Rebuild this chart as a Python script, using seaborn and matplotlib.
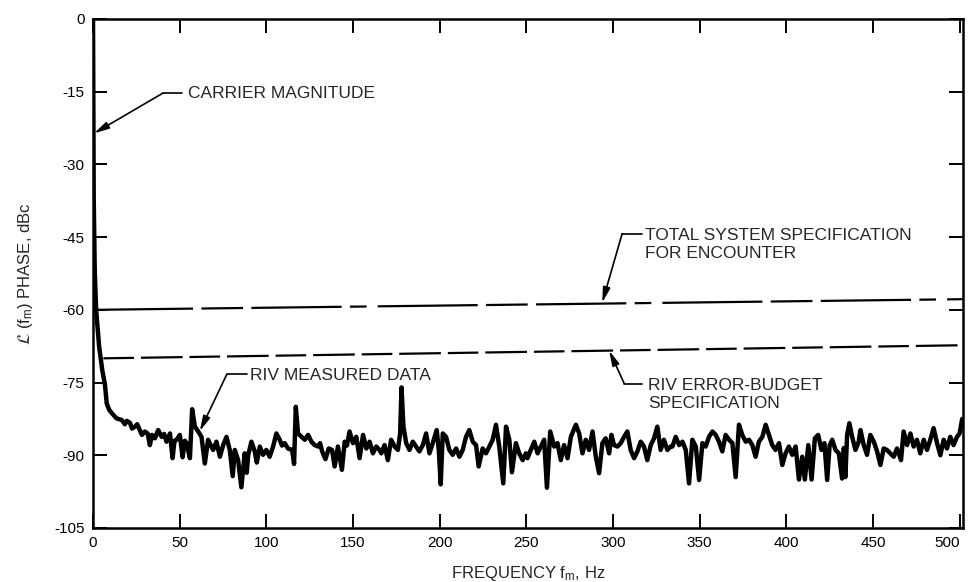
import matplotlib
matplotlib.use("Agg")
import matplotlib.pyplot as plt
import seaborn as sns
import pandas as pd

# Measured single-sideband phase noise of the receiver (offset frequency in Hz, level in dBc)
freq_hz = [
    0, 0.2, 0.4, 1.0, 1.8, 3.5, 5.4, 6.9, 7.9, 9.3, 10.8, 13.6, 16.5, 18.4, 19.5,
    21.3, 22.5, 24.2, 25.5, 27, 28.2, 29.9, 31.5, 32.8, 34, 35.7, 37.6, 39.6, 41,
    42.4, 44.4, 45.9, 47, 48.2, 50.1, 51.7, 53, 54, 55.9, 57.2, 58.8, 60.7, 62.6,
    64.5, 66.4, 68, 69.3, 71.2, 73.2, 75.1, 77, 78.9, 80.6, 81.8, 83.7, 85.6, 87.5,
    88.7, 89.5, 91.4, 93.3, 94.5, 96.2, 98.1, 100, 101.9, 103.9, 105.8, 107.7, 109,
    110.6, 112.5, 114.9, 116.0, 117.0, 118.3, 120.3, 122.2, 124.1, 126, 127.9, 129.9,
    131, 132.2, 134.1, 136, 137.9, 139.4, 141.3, 143.6, 145.2, 146.5, 148, 150,
    151.9, 153.8, 155.8, 157.7, 159.6, 161.5, 163.4, 165.3, 166.3, 168.2, 170.1,
    172, 174, 175.9, 177.2, 178, 179.1, 180.7, 182.6, 184.5, 186.4, 188.3, 190.3,
    192.2, 194.1, 196, 198.3, 199.5, 200.6, 201.8, 203.7, 205.6, 207.5, 209.5,
    211.4, 213.3, 215.2, 217.1, 219.1, 221, 222.5, 224.8, 226.7, 228.7, 230.6,
    232.5, 234.4, 236.7, 238.3, 240.2, 241.7, 244, 245.9, 247.9, 249.8, 250.7,
    252.6, 254.6, 256.5, 258.4, 260.3, 261.9, 263.8, 266.1, 268, 269.9, 271.8,
    273.8, 275.7, 278.6, 280.5, 282.4, 284.3, 286.2, 288.2, 290.1, 292, 293.9,
    295.8, 297.8, 299.1, 300.6, 302.6, 304.5, 306.4, 308.3, 310.2, 312.2, 314.1,
    316, 317.9, 319.8, 321.8, 323.7, 325.6, 327.5, 329.4, 331.4, 333.3, 334.3,
    336.2, 338.2, 340.1, 342, 343.9, 345.8, 347.8, 349.7, 351.6, 353.5, 355.4,
    357.4, 359.3, 361.2, 363.1, 365, 367, 368.9, 370.8, 372.7, 374.6, 376.6,
    378.5, 380.4, 382.3, 384.2, 386.2, 388.1, 390, 391.9, 393.8, 395.8, 397.7,
    399.6, 401.5, 403.4, 405.4, 407.3, 409.2, 410.7, 412.7, 414.6, 416.5, 418.4,
    420.3, 422, 423.6, 425, 426.5, 428.4, 430.3, 432.2, 433.2, 434.1, 435.1,
    436.4, 438, 439.9, 441.8, 442.8, 444.7, 446.6, 448.5, 450.5, 452.4, 454.3,
    456.2, 458.1, 460, 462, 463.9, 466.2, 467.7, 469.7, 471.6, 473.5, 475.4,
    477.3, 479.3, 481.2, 483.1, 485, 487, 488.9, 490.8, 492.7, 494.6, 496.5,
    498.5, 500, 501.5,
]
phase_noise_dbc = [
    0, -20, -37, -52, -60, -67.5, -72.6, -75.5, -79.3, -80.6, -81.3, -82.4, -82.7, -83.6, -82.9,
    -83.3, -84.5, -84.1, -83.6, -84.8, -85.8, -85.1, -85.5, -87.9, -85.8, -86.5, -84.8, -86.2, -85.6,
    -87.2, -85.5, -90.6, -87, -86.8, -85.8, -90.4, -87, -87.5, -90.6, -80.5, -84.1, -85.1, -86.2,
    -91.7, -86.8, -88, -88.9, -87.2, -90.3, -87.9, -86.2, -88.9, -94.3, -88.9, -91, -96.6, -89.6,
    -93.6, -90, -87.2, -89.2, -91.5, -88.2, -89.9, -88.9, -90.3, -88.2, -85.5, -86.8, -88,
    -87.5, -88.6, -88.9, -91.8, -80, -85.5, -86.2, -86.8, -85.8, -87.2, -87.9, -88.2,
    -87.5, -89.2, -90.8, -88.6, -88.9, -92.3, -88.2, -93, -87.2, -88, -85.1, -87.5,
    -86.2, -90.6, -85.8, -88.6, -87.2, -89.6, -88.2, -88.9, -89.6, -87.9, -91,
    -86.8, -88.2, -88.9, -85.5, -76, -84.1, -87.5, -88.9, -87.2, -88.2, -89.2, -87.9,
    -85.5, -89.6, -87.5, -84.8, -88.9, -96, -85.5, -86.2, -88.9, -89.9, -88.6,
    -90.3, -88.9, -86.2, -84.8, -87.2, -87.9, -92.3, -88.6, -89.6, -88.2, -86.8,
    -83.7, -88.2, -95.8, -84.1, -86.8, -93.5, -87.5, -89.6, -91, -89.6, -90.6,
    -88.9, -87.2, -89.6, -88.2, -86.8, -96.7, -85.1, -88.2, -87.5, -91, -87.9,
    -90.6, -86.2, -83.7, -85.5, -89.6, -86.8, -88.9, -85.1, -90.3, -93.7, -87.5,
    -86.5, -89.6, -85.8, -87.9, -88.2, -87.5, -86.2, -85.1, -88.9, -90.6, -89.2,
    -87.2, -88.2, -91, -87.9, -86.5, -84.1, -88.9, -86.8, -88.9, -88.2, -88.2,
    -86.2, -87.9, -87.2, -88.9, -95.8, -86.8, -88.2, -95.1, -87.5, -88.2, -86.2,
    -85.1, -85.8, -87.2, -89.2, -85.8, -86.8, -87.5, -94.5, -83.7, -85.8, -87.2,
    -86.8, -87.9, -90.3, -87.2, -86.2, -83.7, -85.8, -87.9, -88.9, -87.5, -92,
    -89.6, -88.2, -89.9, -88.2, -95, -90.3, -95, -87.9, -95, -86.5, -85.8,
    -88.9, -87.5, -95.1, -88, -86.8, -88.9, -89.6, -94.8, -88.5, -94.5, -85.8,
    -83.4, -86.2, -88.9, -87.2, -84.8, -87.9, -89.9, -85.8, -87.2, -89.2, -92,
    -88.6, -88.9, -89.6, -90.3, -88.6, -91, -85.1, -87.9, -85.5, -88.2, -86.8,
    -89.6, -86.8, -88.9, -86.8, -84.4, -87.5, -90, -86.8, -88.6, -86.2, -87.9,
    -86.2, -85.5, -82.5,
]

# Specification limits (end points of each straight line)
spec_total_hz = [0, 502]
spec_total_dbc = [-60, -57.8]
spec_budget_hz = [6, 502]
spec_budget_dbc = [-70, -67.3]

x_ticks = list(range(0, 501, 50))
y_ticks = list(range(-105, 1, 15))

sns.set_style("ticks")
plt.rcParams["font.family"] = ["Liberation Sans", "DejaVu Sans"]
plt.rcParams["mathtext.fontset"] = "stixsans"
plt.rcParams["axes.unicode_minus"] = False
plt.rcParams["lines.scale_dashes"] = False

fig = plt.figure(figsize=(9.68, 5.82), dpi=100)
ax = fig.add_axes([0.0961, 0.0928, 0.8988, 0.8746])

measured = pd.DataFrame({"f": freq_hz, "L": phase_noise_dbc})
sns.lineplot(data=measured, x="f", y="L", ax=ax, color="black", lw=3.2,
             estimator=None, sort=False, zorder=3)

ax.plot(spec_total_hz, spec_total_dbc, color="black", lw=1.6,
        linestyle=(0, (72, 6, 30, 6, 65, 6, 12, 8)), solid_capstyle="butt")
ax.plot(spec_budget_hz, spec_budget_dbc, color="black", lw=1.6,
        linestyle=(0, (22, 5, 30, 5)), solid_capstyle="butt")

ax.set_xlim(0, 502)
ax.set_ylim(-105, 0)
ax.set_xticks(x_ticks)
ax.set_yticks(y_ticks)
ax.tick_params(direction="in", length=10, width=1.4, top=True, right=True,
               labelsize=11, pad=6, colors="black")
ax.get_xticklabels()[-1].set_horizontalalignment("right")
for side in ax.spines.values():
    side.set_linewidth(1.8)
    side.set_color("black")

ax.set_xlabel("FREQUENCY f$_\\mathregular{m}$, Hz", fontsize=12, labelpad=10)
ax.set_ylabel("$\\mathcal{L}$ (f$_\\mathregular{m}$) PHASE, dBc", fontsize=12,
              labelpad=14)

arrow_kw = dict(arrowstyle="-|>,head_length=0.9,head_width=0.22", color="black",
                lw=1.2, shrinkA=0, shrinkB=0)


def callout(text, tip, knee, shelf_end, text_x, text_y):
    ax.plot([knee[0], shelf_end], [knee[1], knee[1]], color="black", lw=1.2)
    ax.annotate("", xy=tip, xytext=knee, arrowprops=arrow_kw)
    ax.text(text_x, text_y, text, fontsize=12.5, ha="left", va="center",
            linespacing=1.25)


callout("CARRIER MAGNITUDE", (0.6, -23.6), (40.3, -15.3), 51.3, 54.8, -15.3)
callout("RIV MEASURED DATA", (61.6, -85.0), (77.2, -73.3), 88.7, 90.4, -73.5)
callout("TOTAL SYSTEM SPECIFICATION\nFOR ENCOUNTER", (293.8, -58.5),
        (305.3, -44.3), 316.5, 318.5, -46.6)
callout("RIV ERROR-BUDGET\nSPECIFICATION", (297.8, -68.4), (306.5, -75.2),
        316.8, 320.3, -77.4)

fig.savefig("out.png", dpi=100, facecolor="white")
